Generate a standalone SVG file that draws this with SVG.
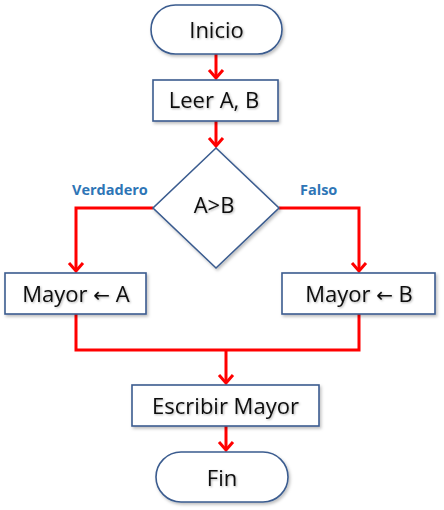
<svg xmlns="http://www.w3.org/2000/svg" width="444" height="510" viewBox="0 0 444 510">
<style>
.box{fill:#ffffff;stroke:#3B5C8F;stroke-width:1.6;filter:url(#sh)}
.t{font-family:"Open Sans","Liberation Sans",sans-serif;font-size:22px;fill:#0d0d0d;text-anchor:middle;filter:url(#tsh)}
.ar{font-family:"DejaVu Sans",sans-serif;font-size:20px}
.lbl{font-family:"Open Sans","Liberation Sans",sans-serif;font-size:14.5px;font-weight:bold;fill:#2E75B6}
.c{fill:none;stroke:#FF0000;stroke-width:3}
</style>
<defs>
<filter id="sh" x="-20%" y="-20%" width="140%" height="150%">
<feDropShadow dx="1.5" dy="2" stdDeviation="1.5" flood-color="#000" flood-opacity="0.25"/>
</filter>
<filter id="tsh" x="-10%" y="-20%" width="120%" height="150%">
<feDropShadow dx="1" dy="1" stdDeviation="0.8" flood-color="#000" flood-opacity="0.3"/>
</filter>
<marker id="ar" markerUnits="userSpaceOnUse" markerWidth="20" markerHeight="20" viewBox="-10 -10 20 20" refX="0" refY="0" orient="auto">
<path d="M-8,-7 L0,0 L-8,7" fill="none" stroke="#FF0000" stroke-width="3"/>
</marker>
</defs>
<g id="connectors">
<path class="c" d="M216,54 V78" marker-end="url(#ar)"/>
<path class="c" d="M216,121 V146" marker-end="url(#ar)"/>
<path class="c" d="M153,208 H76 V271" marker-end="url(#ar)"/>
<path class="c" d="M279,208 H359 V271" marker-end="url(#ar)"/>
<path class="c" d="M76,314 V350 H359 V314"/>
<path class="c" d="M226,350 V383" marker-end="url(#ar)"/>
<path class="c" d="M226,426 V450" marker-end="url(#ar)"/>
</g>
<g id="inicio">
<rect class="box" x="151" y="5" width="131" height="49" rx="24.5"/>
<text class="t" x="216.5" y="38">Inicio</text>
</g>
<g id="leer">
<rect class="box" x="153" y="80" width="125" height="41"/>
<text class="t" x="214" y="108">Leer A, B</text>
</g>
<g id="decision">
<polygon class="box" points="216,148 279,208 216,268 153,208"/>
<text class="t" x="214" y="213">A&gt;B</text>
</g>
<g id="labels">
<text class="lbl" x="72" y="195">Verdadero</text>
<text class="lbl" x="300" y="195">Falso</text>
</g>
<g id="mayorA">
<rect class="box" x="5" y="273" width="141" height="41"/>
<text class="t" x="76" y="302">Mayor <tspan class="ar">←</tspan> A</text>
</g>
<g id="mayorB">
<rect class="box" x="282" y="273" width="153" height="41"/>
<text class="t" x="359" y="302">Mayor <tspan class="ar">←</tspan> B</text>
</g>
<g id="escribir">
<rect class="box" x="132" y="385" width="187" height="41"/>
<text class="t" x="225.5" y="414">Escribir Mayor</text>
</g>
<g id="fin">
<rect class="box" x="156" y="452" width="132" height="50" rx="25"/>
<text class="t" x="222" y="486">Fin</text>
</g>
</svg>
